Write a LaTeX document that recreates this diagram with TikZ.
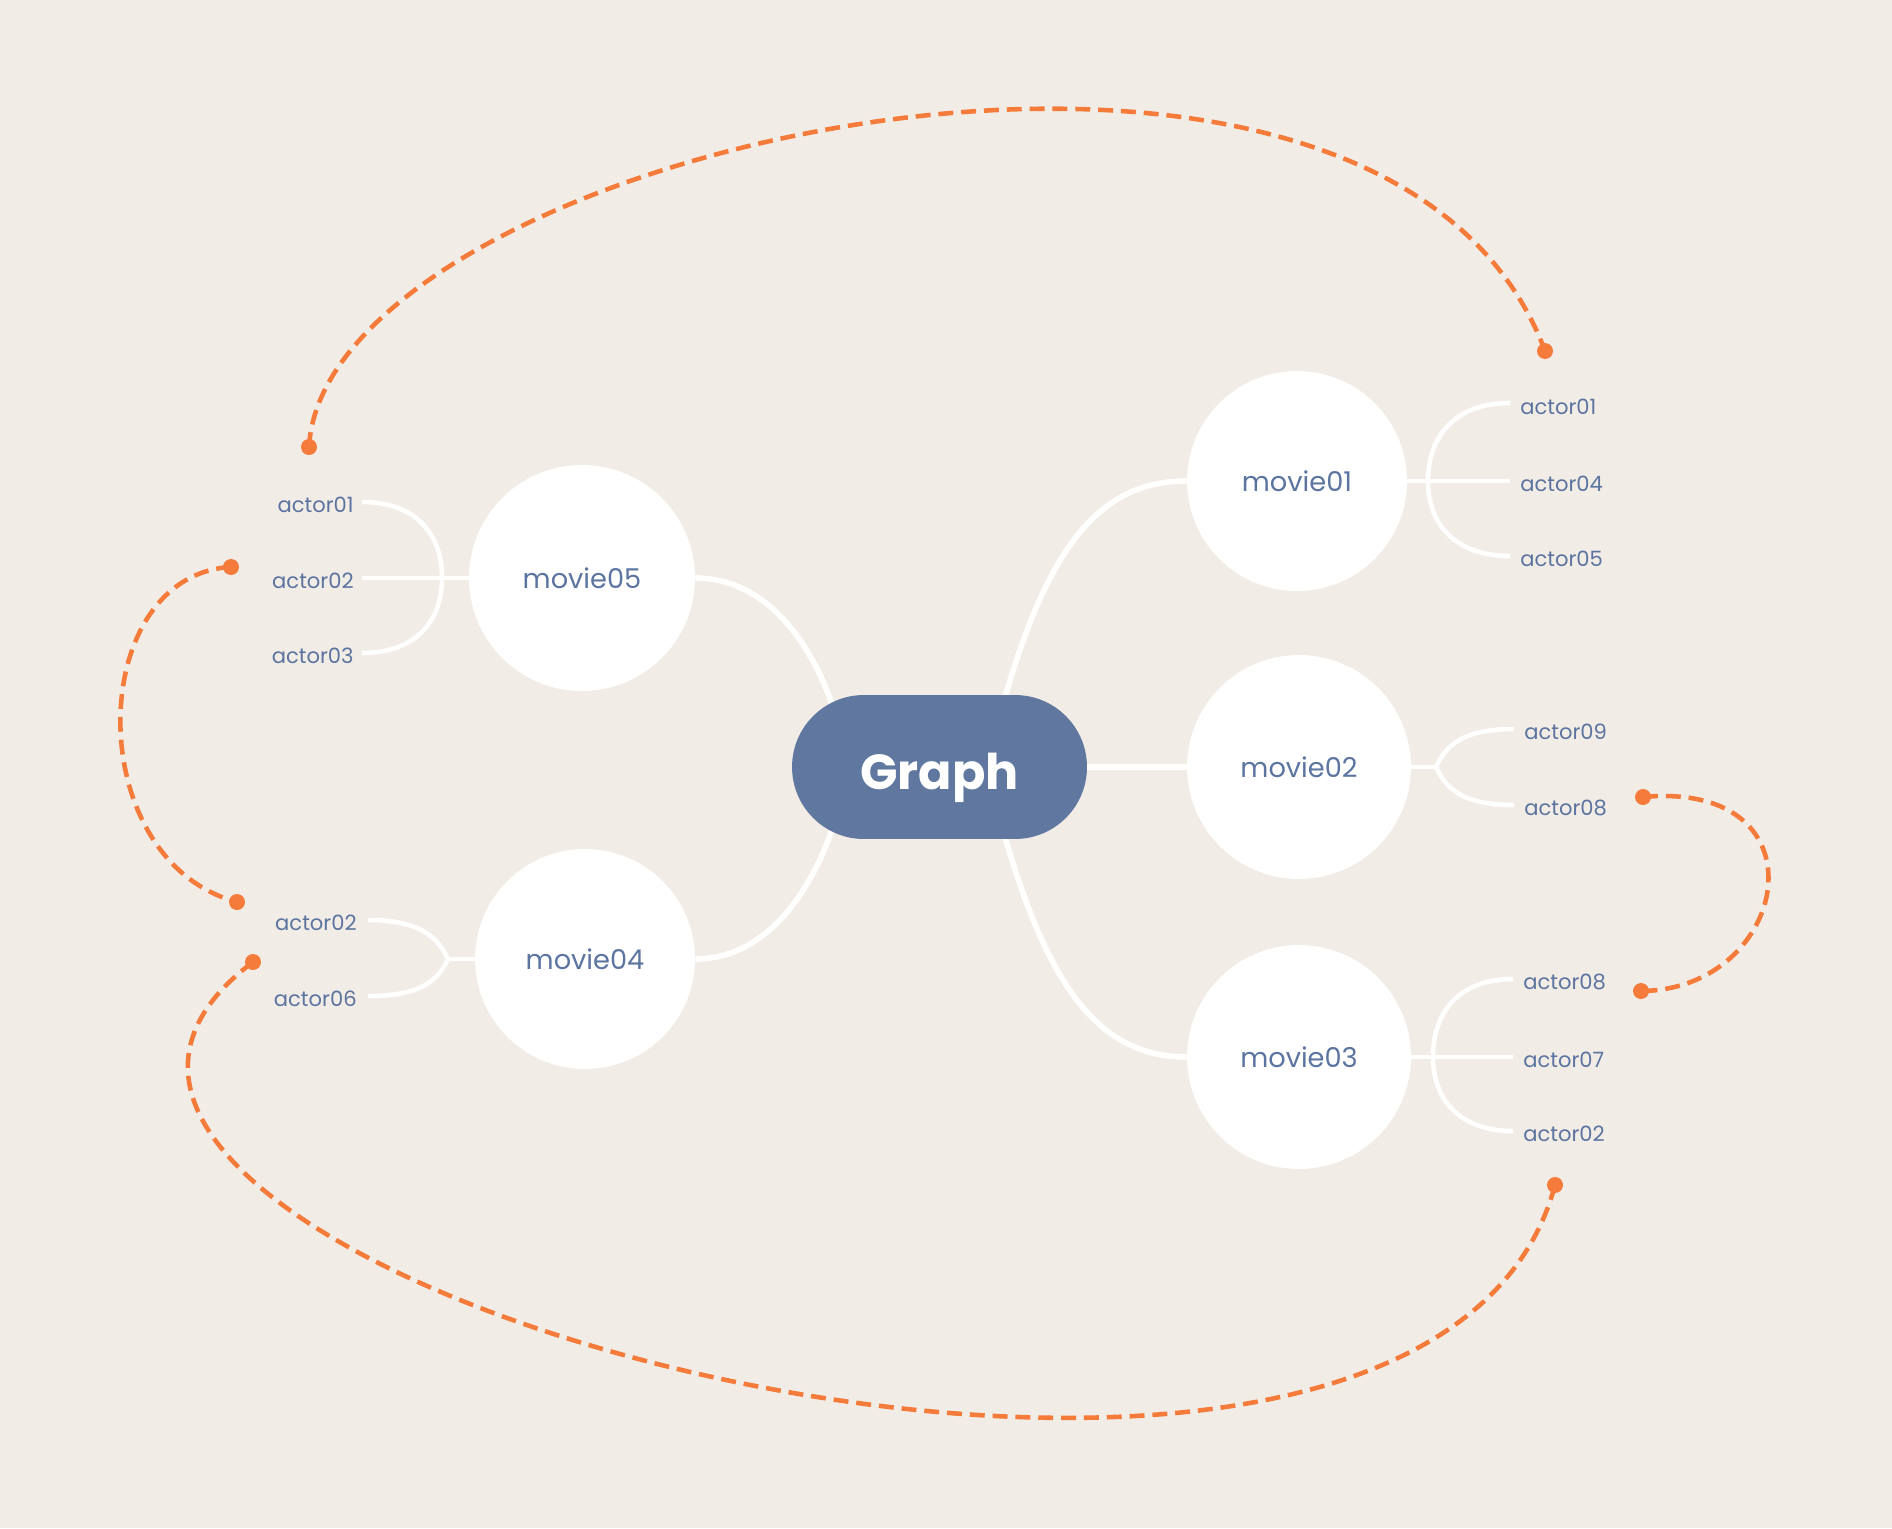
\documentclass[tikz,border=0pt]{standalone}
\usepackage{fontspec}
\setmainfont{Poppins}
\usetikzlibrary{calc}
\definecolor{bgc}{RGB}{241,236,230}
\definecolor{pill}{RGB}{96,120,159}
\definecolor{ink}{RGB}{92,116,160}
\definecolor{rel}{RGB}{245,123,58}
\pgfdeclarelayer{backgr}
\pgfdeclarelayer{edges}
\pgfsetlayers{backgr,edges,main}
\begin{document}
\begin{tikzpicture}[x=0.02cm,y=-0.02cm,
 trunk/.style={white,line width=3.2pt},
 twig/.style={white,line width=2.6pt},
 relline/.style={rel,line width=2.6pt,dash pattern=on 8.5pt off 4.5pt},
 movie/.style={circle,fill=white,text=ink,inner sep=0pt,font=\fontsize{15.5}{18}\selectfont},
 actor/.style={text=ink,inner sep=0pt,font=\fontsize{12}{14}\selectfont},
 dotn/.style={circle,fill=rel,inner sep=0pt,minimum size=0.32cm}]

\begin{pgfonlayer}{backgr}
\fill[bgc] (0,0) rectangle (1892,1528);
\end{pgfonlayer}
\useasboundingbox (0,0) rectangle (1892,1528);

% central node
\node[fill=pill,rounded corners=1.44cm,minimum width=5.9cm,minimum height=2.88cm,inner sep=0pt,text=white,font=\bfseries\fontsize{28}{32}\selectfont] (g) at (939.5,767) {\raisebox{-6pt}[\height][\depth]{Graph}};

% movies
\node[movie,minimum size=4.4cm]  (m1) at (1297,481)  {movie01};
\node[movie,minimum size=4.48cm] (m2) at (1299,767)  {movie02};
\node[movie,minimum size=4.48cm] (m3) at (1299,1057) {movie03};
\node[movie,minimum size=4.52cm] (m5) at (582,578)   {movie05};
\node[movie,minimum size=4.4cm]  (m4) at (585,959)   {movie04};

% branch points and twig ends
\coordinate (m1b) at (1428,481);
\coordinate (m1e1) at (1510,403);
\coordinate (m1e2) at (1510,481);
\coordinate (m1e3) at (1510,556);
\coordinate (m2b) at (1436,767);
\coordinate (m2e1) at (1514,729);
\coordinate (m2e2) at (1514,805);
\coordinate (m3b) at (1433,1057);
\coordinate (m3e1) at (1513,979);
\coordinate (m3e2) at (1513,1057);
\coordinate (m3e3) at (1513,1131);
\coordinate (m5b) at (442,578);
\coordinate (m5e1) at (362,502);
\coordinate (m5e2) at (362,578);
\coordinate (m5e3) at (362,653);
\coordinate (m4b) at (448,959);
\coordinate (m4e1) at (368,920);
\coordinate (m4e2) at (368,996);

% actor labels
\node[actor,anchor=base west] (m1a1) at (1520,414) {actor01};
\node[actor,anchor=base west] (m1a2) at (1520,491) {actor04};
\node[actor,anchor=base west] (m1a3) at (1520,566) {actor05};
\node[actor,anchor=base west] (m2a1) at (1524,739) {actor09};
\node[actor,anchor=base west] (m2a2) at (1524,815) {actor08};
\node[actor,anchor=base west] (m3a1) at (1523,989) {actor08};
\node[actor,anchor=base west] (m3a2) at (1523,1067) {actor07};
\node[actor,anchor=base west] (m3a3) at (1523,1141) {actor02};
\node[actor,anchor=base east] (m5a1) at (354,512) {actor01};
\node[actor,anchor=base east] (m5a2) at (354,588) {actor02};
\node[actor,anchor=base east] (m5a3) at (354,663) {actor03};
\node[actor,anchor=base east] (m4a1) at (357,930) {actor02};
\node[actor,anchor=base east] (m4a2) at (357,1006) {actor06};

% relation dots
\node[dotn] (d1) at (309,447) {};
\node[dotn] (d2) at (1545,351) {};
\node[dotn] (d3) at (231,567) {};
\node[dotn] (d4) at (237,902) {};
\node[dotn] (d5) at (1643,797) {};
\node[dotn] (d6) at (1641,991) {};
\node[dotn] (d7) at (253,962) {};
\node[dotn] (d8) at (1555,1185) {};

\begin{pgfonlayer}{edges}
% trunks
\draw[trunk] ($(g.center)+(56.5,-37)$) .. controls (1043,550) and (1097,481) .. (m1.west);
\draw[trunk] (g.center) -- (m2.west);
\draw[trunk] ($(g.center)+(56.5,37)$) .. controls (1043,984) and (1097,1057) .. (m3.west);
\draw[trunk] ($(g.center)+(-105,-55)$) .. controls (815,650) and (770,578) .. (m5.east);
\draw[trunk] ($(g.center)+(-105,55)$) .. controls (815,884) and (770,959) .. (m4.east);
% twigs movie01
\draw[twig] (m1.east) -- (m1e2);
\draw[twig] (m1b) .. controls (1428,434) and (1457,403) .. (m1e1);
\draw[twig] (m1b) .. controls (1428,526) and (1457,556) .. (m1e3);
% twigs movie02
\draw[twig] (m2.east) -- (m2b);
\draw[twig] (m2b) .. controls (1448,740) and (1471,729) .. (m2e1);
\draw[twig] (m2b) .. controls (1448,794) and (1471,805) .. (m2e2);
% twigs movie03
\draw[twig] (m3.east) -- (m3e2);
\draw[twig] (m3b) .. controls (1433,1010) and (1461,979) .. (m3e1);
\draw[twig] (m3b) .. controls (1433,1101) and (1461,1131) .. (m3e3);
% twigs movie05
\draw[twig] (m5.west) -- (m5e2);
\draw[twig] (m5b) .. controls (442,532) and (414,502) .. (m5e1);
\draw[twig] (m5b) .. controls (442,623) and (414,653) .. (m5e3);
% twigs movie04
\draw[twig] (m4.west) -- (m4b);
\draw[twig] (m4b) .. controls (436,932) and (412,920) .. (m4e1);
\draw[twig] (m4b) .. controls (436,986) and (412,996) .. (m4e2);
% relations
\draw[relline] (d1.center) .. controls (325,150) and (1380,-90) .. (d2.center);
\draw[relline] (d3.center) .. controls (85,575) and (80,860) .. (d4.center);
\draw[relline] (d5.center) .. controls (1830,780) and (1790,990) .. (d6.center);
\draw[relline] (d7.center) .. controls (-147,1262) and (1420,1689) .. (d8.center);
\end{pgfonlayer}
\end{tikzpicture}
\end{document}
